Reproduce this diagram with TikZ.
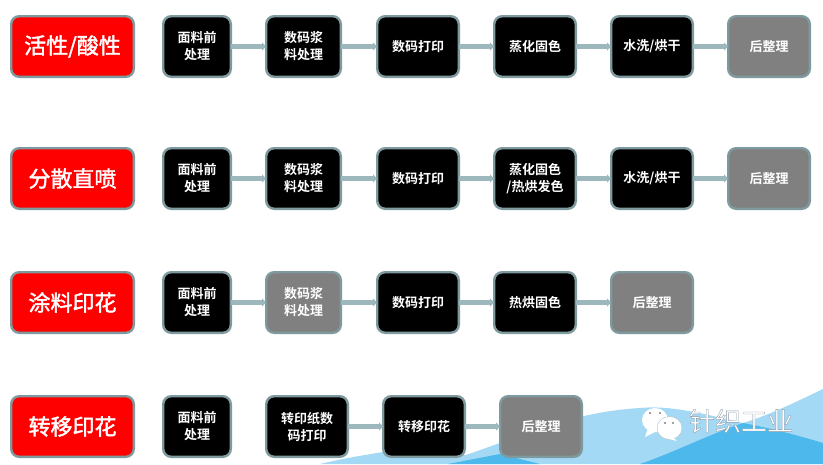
\documentclass[tikz,border=0pt]{standalone}
\usepackage{fontspec}
\setmainfont{Noto Sans CJK SC}[BoldFont={Noto Sans CJK SC Bold}]
\usetikzlibrary{arrows.meta}
\definecolor{edgeg}{HTML}{7F9A9E}
\definecolor{connc}{HTML}{9DB8BC}
\definecolor{lightw}{HTML}{A3D9F5}
\definecolor{darkw}{HTML}{4CB8EC}
\tikzset{
 x=1pt,y=-1pt,
 stage/.style={draw=edgeg,line width=2.4pt,rounded corners=8pt,minimum height=60.6pt,inner sep=0pt,text=white,font=\bfseries\fontsize{13}{17}\selectfont,align=center},
 blk/.style={stage,fill=black},
 gry/.style={stage,fill=gray},
 hd/.style={stage,fill=red,minimum width=122.6pt,font=\fontsize{22}{26}\selectfont},
 conn/.style={draw=connc,line width=4.6pt,-{Triangle[length=4pt,width=8pt]},shorten <=-1pt,shorten >=-1pt},
}
\newcommand{\stg}[6]{\node[#1,minimum width=#4 pt-#3 pt-2.4pt] (#2) at ({(#3+#4)/2},#5) {#6};}
\newcommand{\medtxt}[1]{\special{pdf:code q 2 Tr 0.4 w 1 1 1 RG}#1\special{pdf:code Q}}
\begin{document}
\begin{tikzpicture}
\useasboundingbox (0,0) rectangle (823,464);
\fill[white] (0,0) rectangle (823,464);
\fill[lightw] (320,464) .. controls (345,458) and (365,455) .. (383,452) -- (466,455) -- (500,443) .. controls (545,425) and (590,411) .. (640,408) .. controls (670,405) and (705,414) .. (743,423) .. controls (770,415) and (800,400) .. (823,389) -- (823,464) -- cycle;
\fill[darkw] (448,464) -- (500,454) -- (540,464) -- cycle;
\fill[darkw] (640,464) .. controls (675,452) and (710,434) .. (743,423) .. controls (770,428) and (800,436) .. (823,443) -- (823,464) -- cycle;
\foreach \r/\y/\t in {a/46.5/{活性/酸性},b/178.5/分散直喷,c/302.5/涂料印花,d/426.5/转移印花}{
  \node[hd] (h\r) at (72.5,\y) {\medtxt{\t}};
}
% row 1
\stg{blk}{a1}{162}{232}{46.5}{面料前\\处理}
\stg{blk}{a2}{265}{342}{46.5}{数码浆\\料处理}
\stg{blk}{a3}{376}{460}{46.5}{数码打印}
\stg{blk}{a4}{493}{577}{46.5}{蒸化固色}
\stg{blk}{a5}{610}{694}{46.5}{水洗/烘干}
\stg{gry}{a6}{727}{811}{46.5}{后整理}
% row 2
\stg{blk}{b1}{162}{232}{178.5}{面料前\\处理}
\stg{blk}{b2}{265}{342}{178.5}{数码浆\\料处理}
\stg{blk}{b3}{376}{460}{178.5}{数码打印}
\stg{blk}{b4}{493}{577}{178.5}{蒸化固色\\/热烘发色}
\stg{blk}{b5}{610}{694}{178.5}{水洗/烘干}
\stg{gry}{b6}{727}{811}{178.5}{后整理}
% row 3
\stg{blk}{c1}{162}{232}{302.5}{面料前\\处理}
\stg{gry}{c2}{265}{342}{302.5}{数码浆\\料处理}
\stg{blk}{c3}{376}{460}{302.5}{数码打印}
\stg{blk}{c4}{493}{577}{302.5}{热烘固色}
\stg{gry}{c5}{610}{694}{302.5}{后整理}
% row 4
\stg{blk}{d1}{162}{232}{426.5}{面料前\\处理}
\stg{blk}{d2}{265}{349}{426.5}{转印纸数\\码打印}
\stg{blk}{d3}{382}{466}{426.5}{转移印花}
\stg{gry}{d4}{499}{583}{426.5}{后整理}
\foreach \p/\q in {a1/a2,a2/a3,a3/a4,a4/a5,a5/a6,b1/b2,b2/b3,b3/b4,b4/b5,b5/b6,c1/c2,c2/c3,c3/c4,c4/c5,d2/d3,d3/d4}{
  \draw[conn] (\p) -- (\q);
}
% WeChat mark
\fill[white] (655,420) ellipse (13 and 12);
\fill[white] (648,428) -- (645,437) -- (657,431) -- cycle;
\draw[edgeg!60,line width=0.4pt,fill=white] (669.5,428) ellipse (12.5 and 11.5);
\fill[white] (673,437) -- (677,441) -- (667,438.5) -- cycle;
\fill[gray] (650,413) circle (1.2) (660,413) circle (1.2) (665,423) circle (1.2) (673,423) circle (1.2);
\node[inner sep=0pt,text=white,font=\fontsize{26}{28}\selectfont] (wm) at (741,421) {\special{pdf:code q 2 Tr 0.35 w 0.55 0.6 0.65 RG}针织工业\special{pdf:code Q}};
\end{tikzpicture}
\end{document}
